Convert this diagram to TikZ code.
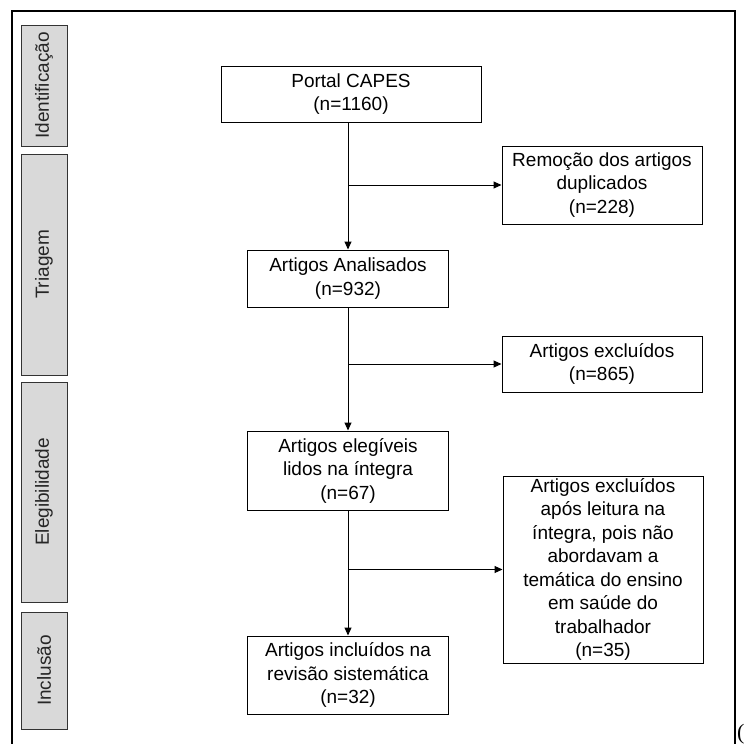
\documentclass[tikz,border=0pt]{standalone}
\usepackage{fontspec}
\setmainfont{Liberation Sans}
\newfontfamily\serifpar{Liberation Serif}
\usetikzlibrary{arrows.meta}
\begin{document}
\begin{tikzpicture}[x=1pt,y=-1pt,
  flowbox/.style={draw, line width=1pt, align=center, inner sep=0pt,
    font=\fontsize{19}{23.5}\selectfont},
  phase/.style={draw=black!80, line width=1pt, fill=black!15, inner sep=0pt,
    minimum width=46pt, text=black!85, font=\fontsize{19}{23}\selectfont},
  arr/.style={line width=1pt, -{Triangle[length=8pt,width=7pt]}}]
\useasboundingbox (0,0) rectangle (745,744);
% outer frame
\draw[line width=2pt] (12,750) -- (12,11) -- (735,11) -- (735,750);
\node[anchor=north west, inner sep=0pt, font=\serifpar\fontsize{22}{24}\selectfont] (paren) at (737,724) {(};
% phase labels
\node[phase, minimum height=121pt] (p1) at (44,85.5) {\rotatebox{90}{Identificação}};
\node[phase, minimum height=221pt] (p2) at (44,264.5) {\rotatebox{90}{Triagem}};
\node[phase, minimum height=220pt] (p3) at (44,492) {\rotatebox{90}{Elegibilidade}};
\node[phase, minimum height=117pt] (p4) at (44,670.5) {\rotatebox{90}{Inclusão}};
% flow boxes
\node[flowbox, minimum width=260pt, minimum height=56pt] (portal) at (351,94) {Portal CAPES\\(n=1160)};
\node[flowbox, minimum width=200pt, minimum height=78pt] (remocao) at (602,185) {Remoção dos artigos\\duplicados\\(n=228)};
\node[flowbox, minimum width=201pt, minimum height=57pt] (analisados) at (348,278.5) {Artigos Analisados\\(n=932)};
\node[flowbox, minimum width=200pt, minimum height=56pt] (excl1) at (602,364) {Artigos excluídos\\(n=865)};
\node[flowbox, minimum width=201pt, minimum height=79pt] (elegiveis) at (348,470.5) {Artigos elegíveis\\lidos na íntegra\\(n=67)};
\node[flowbox, minimum width=200pt, minimum height=187pt] (excl2) at (603,569.5) {Artigos excluídos\\após leitura na\\íntegra, pois não\\abordavam a\\temática do ensino\\em saúde do\\trabalhador\\(n=35)};
\node[flowbox, minimum width=201pt, minimum height=78pt] (incluidos) at (348,675) {Artigos incluídos na\\revisão sistemática\\(n=32)};
% connectors
\draw[arr] (portal.south -| analisados.north) -- (analisados.north);
\draw[arr] (remocao.west -| analisados.north) -- (remocao.west);
\draw[arr] (analisados.south) -- (elegiveis.north);
\draw[arr] (excl1.west -| analisados.north) -- (excl1.west);
\draw[arr] (elegiveis.south) -- (incluidos.north);
\draw[arr] (excl2.west -| elegiveis.north) -- (excl2.west);
\end{tikzpicture}
\end{document}
